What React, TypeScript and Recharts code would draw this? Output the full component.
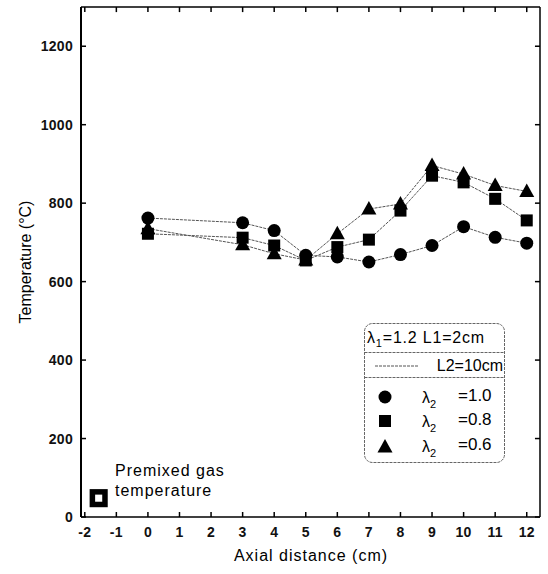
import React from 'react';
import { ComposedChart, Line, Scatter, XAxis, YAxis, ReferenceLine } from 'recharts';

const positions = [0, 3, 4, 5, 6, 7, 8, 9, 10, 11, 12];
const lambda10 = [762, 750, 730, 667, 663, 650, 669, 692, 740, 713, 698];
const lambda08 = [722, 712, 692, 654, 688, 707, 781, 870, 853, 811, 756];
const lambda06 = [735, 694, 671, 655, 722, 785, 798, 896, 874, 845, 830];
const premixed = [{ x: -1.56, y: 48 }];
const xTicks = [-2, -1, 0, 1, 2, 3, 4, 5, 6, 7, 8, 9, 10, 11, 12];
const yTicks = [0, 200, 400, 600, 800, 1000, 1200];
const X_MIN = -2.12;
const X_MAX = 12.42;
const Y_MAX = 1300;

const toRows = (vals: number[]) => positions.map((x, i) => ({ x, y: vals[i] }));
const d10 = toRows(lambda10);
const d08 = toRows(lambda08);
const d06 = toRows(lambda06);

const FONT = '"Liberation Sans", Arial, sans-serif';

const CircleDot = (p: any) => (
  <circle key={`c${p.index}`} cx={p.cx} cy={p.cy} r={6.5} fill="#000" />
);
const SquareDot = (p: any) => (
  <rect key={`s${p.index}`} x={p.cx - 6} y={p.cy - 6} width={12} height={12} fill="#000" />
);
const TriDot = (p: any) => (
  <polygon
    key={`t${p.index}`}
    points={`${p.cx},${p.cy - 8} ${p.cx - 7.5},${p.cy + 5.5} ${p.cx + 7.5},${p.cy + 5.5}`}
    fill="#000"
  />
);
const PremixShape = (p: any) => (
  <rect x={p.cx - 6.3} y={p.cy - 6.3} width={12.6} height={12.6} fill="#fff" stroke="#000" strokeWidth={5.5} />
);

const tickStyle = { fontFamily: FONT, fontSize: 14, fontWeight: 'bold', fill: '#111', letterSpacing: 0.3 };
const lineProps = { stroke: '#555', strokeWidth: 1, strokeDasharray: '3 1', isAnimationActive: false, activeDot: false as any };

export default function App() {
  return (
    <div style={{ position: 'absolute', left: 0, top: 0, width: 548, height: 574, background: '#fff' }}>
      <ComposedChart width={548} height={574} margin={{ top: 7, right: 8, left: 0, bottom: 0 }}>
        <XAxis
          xAxisId="b"
          type="number"
          dataKey="x"
          domain={[X_MIN, X_MAX]}
          ticks={xTicks}
          allowDataOverflow
          orientation="bottom"
          height={57}
          tickSize={-5}
          tickMargin={15}
          tick={tickStyle}
          stroke="#000"
          axisLine={{ stroke: '#000', strokeWidth: 1.5 }}
          tickLine={{ stroke: '#000', strokeWidth: 1.5 }}
          label={() => (
            <text x={311} y={561} textAnchor="middle" fontFamily={FONT} fontSize={16} letterSpacing={1} fill="#000">
              Axial distance  (cm)
            </text>
          )}
        />
        <YAxis
          yAxisId="l"
          type="number"
          domain={[0, Y_MAX]}
          ticks={yTicks}
          allowDataOverflow
          orientation="left"
          width={81}
          tickSize={-5}
          tickMargin={13}
          tick={tickStyle}
          axisLine={{ stroke: '#000', strokeWidth: 2 }}
          tickLine={{ stroke: '#000', strokeWidth: 1.5 }}
          label={() => (
            <text
              x={0}
              y={0}
              transform="translate(31 262) rotate(-90)"
              textAnchor="middle"
              fontFamily={FONT}
              fontSize={16}
              fill="#000"
            >
              Temperature  (°C)
            </text>
          )}
        />
        <ReferenceLine xAxisId="b" yAxisId="l" y={Y_MAX} stroke="#000" strokeWidth={1.5} ifOverflow="visible" />
        <ReferenceLine xAxisId="b" yAxisId="l" x={X_MAX} stroke="#000" strokeWidth={1.5} ifOverflow="visible" />
        {xTicks.map((t) => (
          <ReferenceLine
            key={`tt${t}`}
            xAxisId="b"
            yAxisId="l"
            segment={[{ x: t, y: Y_MAX }, { x: t, y: Y_MAX - 13 }]}
            stroke="#000"
            strokeWidth={1.5}
            ifOverflow="visible"
          />
        ))}
        {yTicks.map((t) => (
          <ReferenceLine
            key={`rt${t}`}
            xAxisId="b"
            yAxisId="l"
            segment={[{ x: X_MAX, y: t }, { x: X_MAX - 0.16, y: t }]}
            stroke="#000"
            strokeWidth={1.5}
            ifOverflow="visible"
          />
        ))}
        <Line xAxisId="b" yAxisId="l" data={d06} dataKey="y" {...lineProps} dot={TriDot} />
        <Line xAxisId="b" yAxisId="l" data={d08} dataKey="y" {...lineProps} dot={SquareDot} />
        <Line xAxisId="b" yAxisId="l" data={d10} dataKey="y" {...lineProps} dot={CircleDot} />
        <Scatter xAxisId="b" yAxisId="l" data={premixed} dataKey="y" shape={PremixShape} isAnimationActive={false} />
      </ComposedChart>
      <svg width={548} height={574} style={{ position: 'absolute', left: 0, top: 0, pointerEvents: 'none' }}>
        <g fontFamily={FONT} fill="#000">
          <text x={115} y={476} fontSize={16} letterSpacing={1}>Premixed gas</text>
          <text x={115} y={496} fontSize={16} letterSpacing={1}>temperature</text>
        </g>
        <g fontFamily={FONT} fill="#000">
          <rect x={364.5} y={323.5} width={140} height={139} rx={8} fill="none" stroke="#666" strokeWidth={1} strokeDasharray="3 1" />
          <line x1={364.5} x2={504.5} y1={352.5} y2={352.5} stroke="#666" strokeDasharray="3 1" />
          <line x1={364.5} x2={504.5} y1={377.5} y2={377.5} stroke="#666" strokeDasharray="3 1" />
          <text x={367} y={343} fontSize={16} letterSpacing={0.8}>
            λ<tspan dy={4} fontSize={11}>1</tspan><tspan dy={-4}>=1.2 L1=2cm</tspan>
          </text>
          <line x1={375} x2={418} y1={366} y2={366} stroke="#555" strokeDasharray="3 1" />
          <text x={503} y={371} fontSize={16} textAnchor="end">L2=10cm</text>
          <circle cx={385} cy={397} r={6.5} fill="#000" />
          <rect x={379} y={415} width={12} height={12} fill="#000" />
          <polygon points="385,439 377.5,452.5 392.5,452.5" fill="#000" />
          {[
            { y: 403, v: '=1.0' },
            { y: 427, v: '=0.8' },
            { y: 452, v: '=0.6' },
          ].map((r) => (
            <g key={r.v}>
              <text x={422} y={r.y} fontSize={16}>
                λ<tspan dy={5} fontSize={11}>2</tspan>
              </text>
              <text x={458} y={r.y - 2} fontSize={17}>{r.v}</text>
            </g>
          ))}
        </g>
      </svg>
    </div>
  );
}
